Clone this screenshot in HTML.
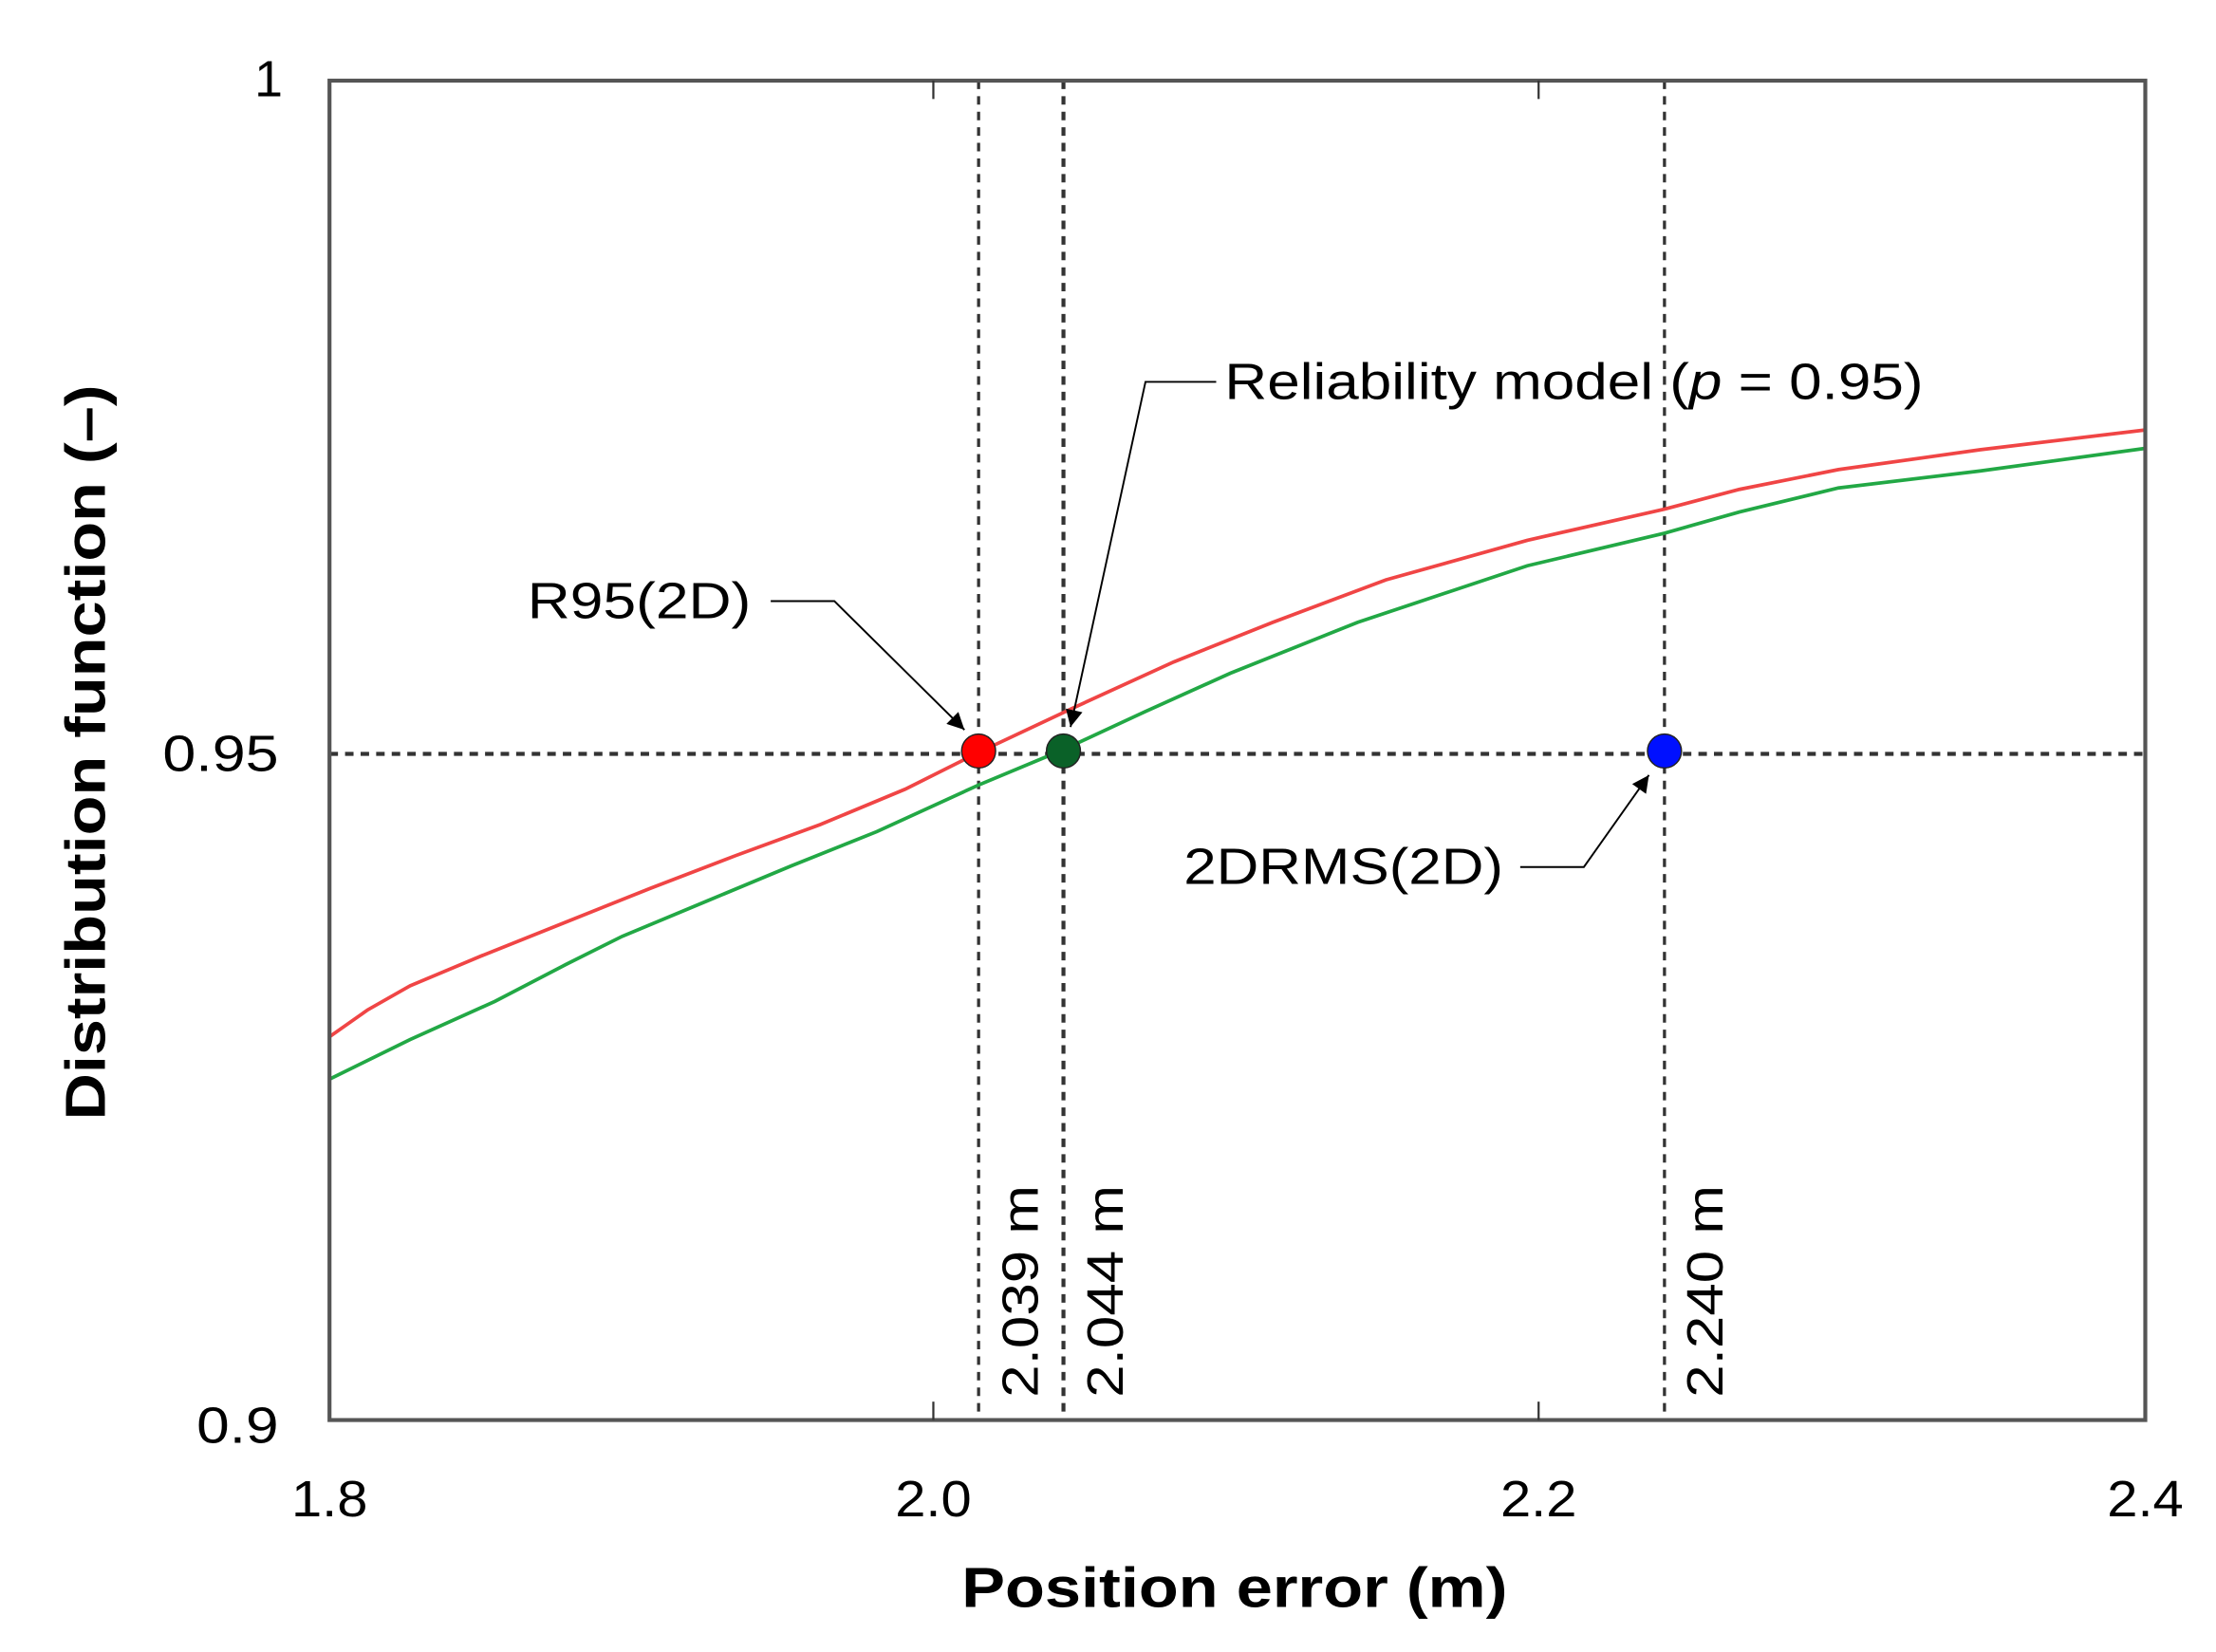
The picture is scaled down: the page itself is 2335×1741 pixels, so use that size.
<!DOCTYPE html>
<html><head><meta charset="utf-8"><style>html,body{margin:0;padding:0;background:#fff}svg{display:block}</style></head>
<body>
<svg width="2335" height="1741" viewBox="0 0 1567 1168" preserveAspectRatio="none" xmlns="http://www.w3.org/2000/svg" font-family="Liberation Sans, sans-serif">
<defs>
<marker id="a2" viewBox="0 0 10 10" refX="10" refY="5" markerWidth="22" markerHeight="12" orient="auto" markerUnits="userSpaceOnUse"><path d="M0,0 L10,5 L0,10 z" fill="#000"/></marker></defs>
<g stroke="#333" stroke-width="2.2" stroke-dasharray="6,5" fill="none">
<line x1="233" y1="533" x2="1517" y2="533" stroke-width="2.8"/>
<line x1="692" y1="57" x2="692" y2="1004"/>
<line x1="752" y1="57" x2="752" y2="1004" stroke-width="2.8"/>
<line x1="1177" y1="57" x2="1177" y2="1004"/>
</g>
<polyline fill="none" stroke="#f04545" stroke-width="2.5" points="233,733 260,714 290,697 340,676 400,652 460,628 520,605 580,583 640,558 692,532 760,500 830,468 900,440 980,410 1080,382 1177,360 1230,346 1300,332 1400,318 1517,304"/>
<polyline fill="none" stroke="#22a845" stroke-width="2.5" points="233,763 290,735 350,708 400,682 440,662 500,637 560,612 620,588 692,555 752,530 810,503 870,476 960,440 1080,400 1177,377 1230,362 1300,345 1400,333 1517,317"/>
<rect x="233" y="57" width="1284" height="947" fill="none" stroke="#555" stroke-width="2.8"/>
<g stroke="#333" stroke-width="1.5"><line x1="660" y1="57" x2="660" y2="70"/><line x1="1088" y1="57" x2="1088" y2="70"/><line x1="660" y1="1004" x2="660" y2="991"/><line x1="1088" y1="1004" x2="1088" y2="991"/></g>
<circle cx="692" cy="531" r="12" fill="#f00" stroke="#222" stroke-width="1"/>
<circle cx="752" cy="531" r="12" fill="#0a6128" stroke="#222" stroke-width="1"/>
<circle cx="1177" cy="531" r="12" fill="#0010ff" stroke="#222" stroke-width="1"/>
<g stroke="#000" stroke-width="1.3" fill="none">
<polyline points="545,425 590,425 682,516" marker-end="url(#a2)"/>
<polyline points="860,270 810,270 757,514" marker-end="url(#a2)"/>
<polyline points="1075,613 1120,613 1166,548" marker-end="url(#a2)"/>
</g>
<g font-size="36" fill="#000" lengthAdjust="spacingAndGlyphs">
<text x="200" y="68" text-anchor="end">1</text>
<text x="197" y="545" text-anchor="end" textLength="82" lengthAdjust="spacingAndGlyphs">0.95</text>
<text x="197" y="1020" text-anchor="end" textLength="58" lengthAdjust="spacingAndGlyphs">0.9</text>
<text x="233" y="1072" text-anchor="middle" textLength="54" lengthAdjust="spacingAndGlyphs">1.8</text>
<text x="660" y="1072" text-anchor="middle" textLength="54" lengthAdjust="spacingAndGlyphs">2.0</text>
<text x="1088" y="1072" text-anchor="middle" textLength="54" lengthAdjust="spacingAndGlyphs">2.2</text>
<text x="1517" y="1072" text-anchor="middle" textLength="54" lengthAdjust="spacingAndGlyphs">2.4</text>
<text x="373" y="437" textLength="158" lengthAdjust="spacingAndGlyphs">R95(2D)</text>
<text x="866" y="282" textLength="494" lengthAdjust="spacingAndGlyphs">Reliability model (<tspan font-style="italic">p</tspan> = 0.95)</text>
<text x="837" y="625" textLength="226" lengthAdjust="spacingAndGlyphs">2DRMS(2D)</text>
<text transform="translate(734,988) rotate(-90)" textLength="150" lengthAdjust="spacingAndGlyphs">2.039 m</text>
<text transform="translate(794,988) rotate(-90)" textLength="150" lengthAdjust="spacingAndGlyphs">2.044 m</text>
<text transform="translate(1218,988) rotate(-90)" textLength="150" lengthAdjust="spacingAndGlyphs">2.240 m</text>
</g>
<text x="873" y="1136" text-anchor="middle" font-size="40" font-weight="bold" textLength="386" lengthAdjust="spacingAndGlyphs">Position error (m)</text>
<text transform="translate(74,532) rotate(-90)" text-anchor="middle" font-size="40" font-weight="bold" textLength="520" lengthAdjust="spacingAndGlyphs">Distribution function (–)</text>
</svg>
</body></html>
